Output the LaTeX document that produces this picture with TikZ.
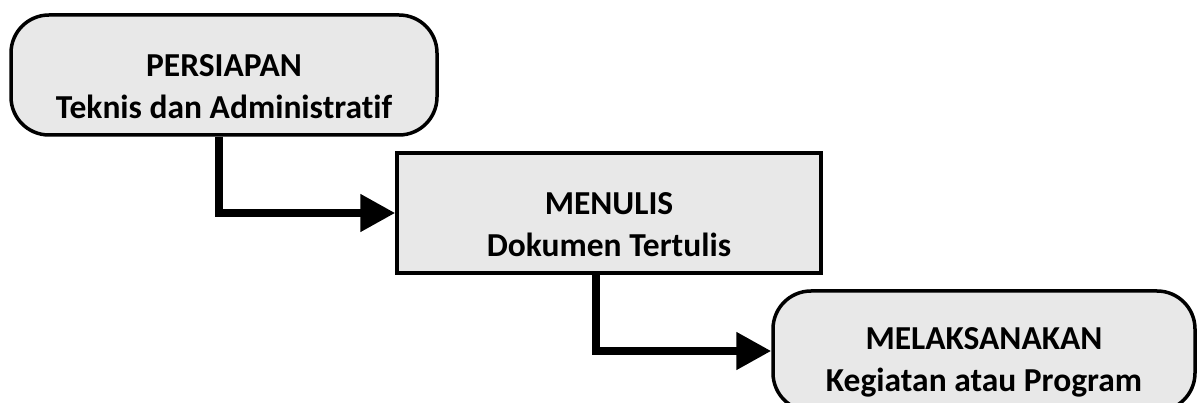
\documentclass[tikz,border=0pt]{standalone}
\usepackage{fontspec}
\setmainfont{Carlito}[Ligatures=NoCommon]
\usepackage{tikz}
\usetikzlibrary{arrows.meta}
\definecolor{boxgray}{HTML}{E8E8E8}
\newcommand{\lowstrut}{\rule{0pt}{45pt}}
\tikzstyle{stepbox} = [draw, line width=3.5pt, fill=boxgray, align=center, font=\bfseries\fontsize{33.5}{42}\selectfont, minimum height=120pt, inner sep=0pt]
\tikzstyle{roundbox} = [stepbox, rounded corners=38pt]
\tikzstyle{arrow} = [line width=8pt, -{Triangle[length=35pt,width=36pt]}]

\begin{document}
\begin{tikzpicture}[x=1pt, y=-1pt]
          \useasboundingbox (0,0) rectangle (1197,403);
          \clip (0,0) rectangle (1197,403);
          % Node positions
          \node[roundbox, minimum width=426pt] (persiapan) at (224,75) {\lowstrut PERSIAPAN\\Teknis dan Administratif};
          \node[stepbox, minimum width=424pt] (menulis) at (609,213) {\lowstrut MENULIS\\Dokumen Tertulis};
          \node[roundbox, minimum width=422pt] (melaksanakan) at (984,351) {\lowstrut MELAKSANAKAN\\Kegiatan atau Program};

          % Edges
          \draw[arrow] ([xshift=-5pt]persiapan.south) |- (menulis.west);
          \draw[arrow] ([xshift=-13pt]menulis.south) |- (melaksanakan.west);

        \end{tikzpicture}
\end{document}
